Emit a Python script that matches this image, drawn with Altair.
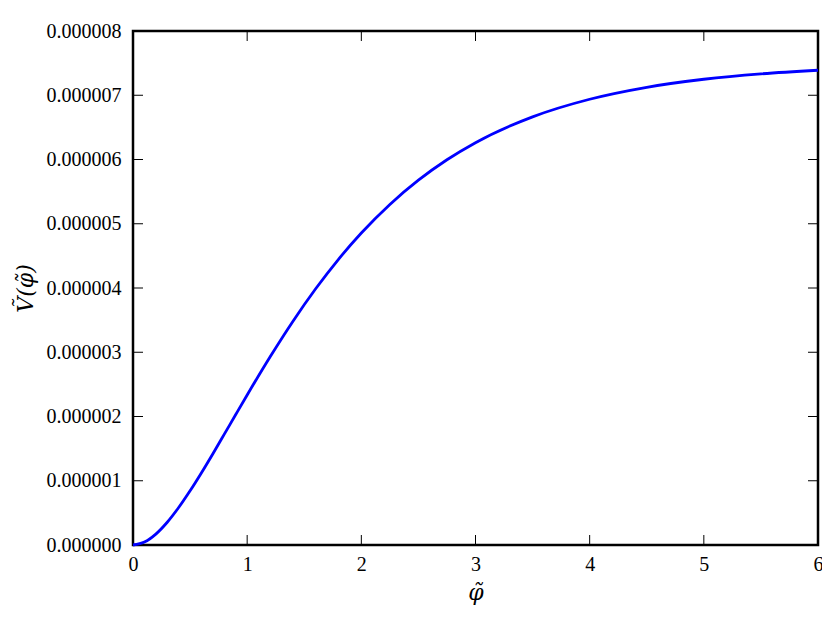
import altair as alt
import pandas as pd

# values (V in units of 1e-6)
phi = [0.0, 0.1, 0.2, 0.3, 0.4, 0.5, 0.6, 0.7, 0.8, 0.9, 1.0, 1.2, 1.4, 1.6, 1.8,
       2.0, 2.25, 2.5, 2.75, 3.0, 3.5, 4.0, 4.5, 5.0, 5.5, 6.0]
v_micro = [0.0, 0.046, 0.170, 0.354, 0.583, 0.843, 1.125, 1.421, 1.725, 2.031, 2.335,
           2.926, 3.480, 3.988, 4.447, 4.856, 5.301, 5.678, 5.996, 6.262, 6.664,
           6.938, 7.124, 7.249, 7.333, 7.389]
x_ticks = [0, 1, 2, 3, 4, 5, 6]
y_ticks_micro = [0, 1, 2, 3, 4, 5, 6, 7, 8]

W, H = 685, 514
TICK = 10

df = pd.DataFrame({"phi": phi, "V": [v * 1e-6 for v in v_micro]})
xt = pd.DataFrame({"t": x_ticks})
yt = pd.DataFrame({"t": [v * 1e-6 for v in y_ticks_micro]})

xscale = alt.Scale(domain=[0, 6], nice=False, zero=False)
yscale = alt.Scale(domain=[0, 8e-6], nice=False, zero=False)

font = "Liberation Serif"
tfont = "DejaVu Serif"

line = alt.Chart(df).mark_line(color="#0000ff", strokeWidth=2.8, interpolate="monotone").encode(
    x=alt.X("phi:Q", scale=xscale,
            axis=alt.Axis(values=x_ticks, format="d", ticks=False, domain=False, grid=False,
                          labelFlush=False, labelOverlap=False,
                          labelFont=font, labelFontSize=20, labelPadding=9, labelColor="black",
                          title="φ̃", titleFont=tfont, titleFontStyle="italic",
                          titleFontWeight="normal", titleFontSize=22, titlePadding=8,
                          titleColor="black")),
    y=alt.Y("V:Q", scale=yscale,
            axis=alt.Axis(values=[v * 1e-6 for v in y_ticks_micro], format=".6f", ticks=False,
                          domain=False, grid=False, labelFlush=False, labelOverlap=False,
                          labelFont=font, labelFontSize=20,
                          labelPadding=12, labelColor="black",
                          title="Ṽ(φ̃)", titleFont=tfont, titleFontStyle="italic",
                          titleFontWeight="normal", titleFontSize=22, titlePadding=9,
                          titleColor="black")),
)

tick_style = dict(color="black", strokeWidth=1)
xb = alt.Chart(xt).mark_rule(**tick_style).encode(x=alt.X("t:Q", scale=xscale), y=alt.value(H), y2=alt.value(H - TICK))
xtop = alt.Chart(xt).mark_rule(**tick_style).encode(x=alt.X("t:Q", scale=xscale), y=alt.value(0), y2=alt.value(TICK))
yl = alt.Chart(yt).mark_rule(**tick_style).encode(y=alt.Y("t:Q", scale=yscale), x=alt.value(0), x2=alt.value(TICK))
yr = alt.Chart(yt).mark_rule(**tick_style).encode(y=alt.Y("t:Q", scale=yscale), x=alt.value(W), x2=alt.value(W - TICK))

chart = alt.layer(xb, xtop, yl, yr, line).properties(
    width=W, height=H,
    padding={"left": 125, "top": 23, "right": 4, "bottom": 60},
    autosize=alt.AutoSizeParams(type="none"),
).configure_view(stroke="black", strokeWidth=2.5)

chart.save("out.html", embed_options={"renderer": "svg", "actions": False})
